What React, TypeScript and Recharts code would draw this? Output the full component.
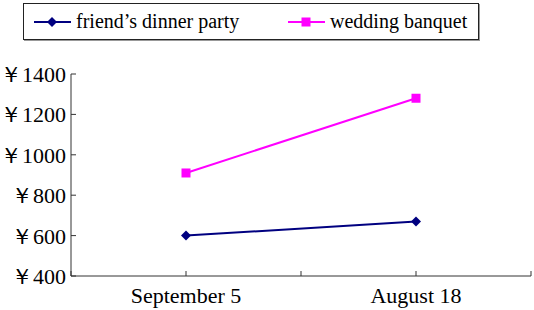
import React from 'react';
import { LineChart, Line, XAxis, YAxis, Legend } from 'recharts';

const categories = ['September 5', 'August 18'];
const friendsDinner = [600, 670];
const weddingBanquet = [910, 1280];
const yTicks = [400, 600, 800, 1000, 1200, 1400];
const xTicks = [0, 0.5, 1, 1.5, 2];

const FONT = "'Liberation Serif', 'Times New Roman', serif";
const AXIS = '#333';
const NAVY = '#000080';
const MAGENTA = '#ff00ff';

const data = categories.map((c, i) => ({
  pos: i + 0.5,
  label: c,
  friend: friendsDinner[i],
  wedding: weddingBanquet[i],
}));

const labelFor = (v: number) => (v % 1 === 0.5 ? categories[Math.floor(v)] : '');

const XTick = ({ x, y, payload }: any) => (
  <g>
    <line x1={x} x2={x} y1={y} y2={y - 5} stroke={AXIS} strokeWidth={1} />
    <text x={x} y={y + 27} textAnchor="middle" fontFamily={FONT} fontSize={22} fill="#000">
      {labelFor(payload.value)}
    </text>
  </g>
);

const YTick = ({ x, y, payload }: any) => (
  <g>
    <line x1={x} x2={x + 5} y1={y} y2={y} stroke={AXIS} strokeWidth={1} />
    <text x={x - 5} y={y + 8} textAnchor="end" fontFamily={FONT} fontSize={22} fill="#000">
      {`￥${payload.value}`}
    </text>
  </g>
);

const Diamond = ({ cx, cy, fill }: any) => (
  <path d={`M${cx},${cy - 5}L${cx + 5},${cy}L${cx},${cy + 5}L${cx - 5},${cy}Z`} fill={fill} />
);

const Square = ({ cx, cy, fill }: any) => (
  <rect x={cx - 4.5} y={cy - 4.5} width={9} height={9} fill={fill} />
);

const LegendBox = ({ payload }: any) => (
  <div
    style={{
      width: 456,
      height: 37,
      boxSizing: 'border-box',
      border: '1px solid #222',
      boxShadow: '1px 1px 0 #999',
      background: '#fff',
      position: 'relative',
      fontFamily: FONT,
      fontSize: 20,
      color: '#000',
    }}
  >
    {(payload || []).map((p: any, i: number) => {
      const left = i === 0 ? 10 : 264;
      return (
        <div key={p.value} style={{ position: 'absolute', left, top: 0, height: 35, display: 'flex', alignItems: 'center' }}>
          <svg width={37} height={12} style={{ marginRight: 5 }}>
            <line x1={0} x2={37} y1={6} y2={6} stroke={p.color} strokeWidth={2} />
            {p.dataKey === 'friend' ? (
              <Diamond cx={18} cy={6} fill={p.color} />
            ) : (
              <Square cx={18} cy={6} fill={p.color} />
            )}
          </svg>
          <span style={{ whiteSpace: 'nowrap' }}>{p.value}</span>
        </div>
      );
    })}
  </div>
);

export default function App() {
  return (
    <div style={{ position: 'absolute', left: 0, top: 0, width: 534, height: 310, background: '#fff' }}>
      <LineChart width={534} height={310} data={data} margin={{ top: 74, right: 3, left: 0, bottom: 0 }}>
        <XAxis
          dataKey="pos"
          type="number"
          domain={[0, 2]}
          ticks={xTicks}
          interval={0}
          height={34}
          stroke={AXIS}
          tickLine={false}
          tickSize={0}
          tickMargin={0}
          tick={<XTick />}
        />
        <YAxis
          type="number"
          domain={[400, 1400]}
          ticks={yTicks}
          interval={0}
          width={71}
          stroke={AXIS}
          tickLine={false}
          tickSize={0}
          tickMargin={0}
          tick={<YTick />}
        />
        <Legend
          layout="horizontal"
          verticalAlign="middle"
          align="center"
          wrapperStyle={{ top: 3, left: 23, width: 456, height: 37 }}
          content={<LegendBox />}
        />
        <Line
          dataKey="friend"
          name="friend’s dinner party"
          stroke={NAVY}
          strokeWidth={2}
          dot={<Diamond fill={NAVY} />}
          activeDot={false}
          isAnimationActive={false}
        />
        <Line
          dataKey="wedding"
          name="wedding banquet"
          stroke={MAGENTA}
          strokeWidth={2}
          dot={<Square fill={MAGENTA} />}
          activeDot={false}
          isAnimationActive={false}
        />
      </LineChart>
    </div>
  );
}
